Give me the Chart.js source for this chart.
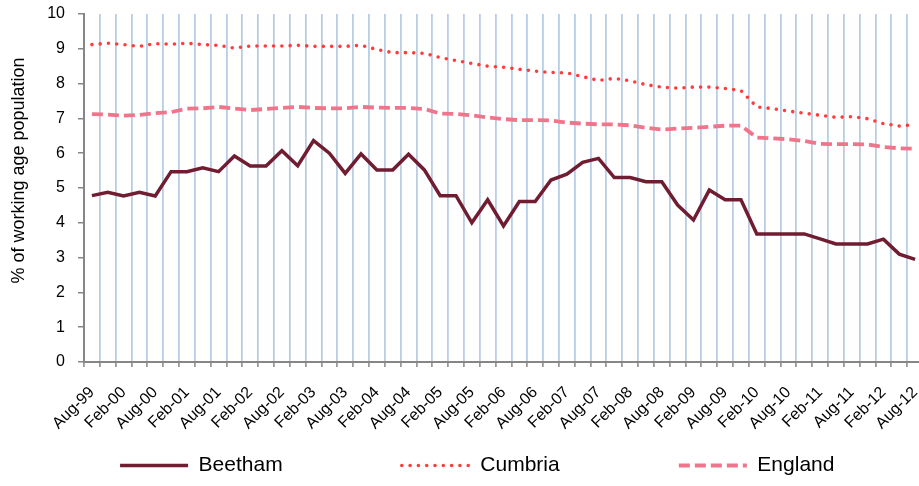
<!DOCTYPE html>
<html>
<head>
<meta charset="utf-8">
<title>Claimant rate: Beetham, Cumbria and England</title>
<script src="https://cdn.jsdelivr.net/npm/chart.js@4.4.1/dist/chart.umd.min.js"></script>
<style>
  html, body { margin: 0; padding: 0; background: #fff; overflow: hidden; }
  #wrap { width: 919px; height: 486px; overflow: hidden; }
  canvas { display: block; }
</style>
</head>
<body>
<div id="wrap"><canvas id="chart" width="927" height="486"></canvas></div>
<script>
const quarters = [
    'Aug-99', 'Nov-99',
    'Feb-00', 'May-00', 'Aug-00', 'Nov-00',
    'Feb-01', 'May-01', 'Aug-01', 'Nov-01',
    'Feb-02', 'May-02', 'Aug-02', 'Nov-02',
    'Feb-03', 'May-03', 'Aug-03', 'Nov-03',
    'Feb-04', 'May-04', 'Aug-04', 'Nov-04',
    'Feb-05', 'May-05', 'Aug-05', 'Nov-05',
    'Feb-06', 'May-06', 'Aug-06', 'Nov-06',
    'Feb-07', 'May-07', 'Aug-07', 'Nov-07',
    'Feb-08', 'May-08', 'Aug-08', 'Nov-08',
    'Feb-09', 'May-09', 'Aug-09', 'Nov-09',
    'Feb-10', 'May-10', 'Aug-10', 'Nov-10',
    'Feb-11', 'May-11', 'Aug-11', 'Nov-11',
    'Feb-12', 'May-12', 'Aug-12'
];

const beetham = [
    4.78, 4.88, 4.77, 4.88, 4.77, 5.47, 5.47, 5.58, 5.47, 5.92,
    5.63, 5.63, 6.07, 5.64, 6.36, 6.00, 5.42, 5.98, 5.52, 5.52,
    5.97, 5.52, 4.78, 4.78, 4.00, 4.66, 3.91, 4.61, 4.61, 5.23,
    5.40, 5.74, 5.85, 5.30, 5.30, 5.18, 5.18, 4.51, 4.08, 4.94,
    4.66, 4.66, 3.68, 3.68, 3.68, 3.68, 3.54, 3.39, 3.39, 3.39,
    3.53, 3.10, 2.95
];

const cumbria = [
    9.12, 9.16, 9.12, 9.07, 9.15, 9.13, 9.16, 9.12, 9.10, 9.02,
    9.08, 9.08, 9.08, 9.10, 9.07, 9.07, 9.07, 9.10, 8.98, 8.89,
    8.89, 8.87, 8.75, 8.66, 8.58, 8.50, 8.47, 8.41, 8.36, 8.32,
    8.31, 8.20, 8.09, 8.15, 8.08, 7.97, 7.90, 7.87, 7.90, 7.90,
    7.86, 7.80, 7.33, 7.28, 7.21, 7.15, 7.09, 7.03, 7.05, 6.99,
    6.85, 6.78, 6.82
];

const england = [
    7.12, 7.11, 7.08, 7.10, 7.15, 7.18, 7.28, 7.29, 7.33, 7.28,
    7.24, 7.27, 7.30, 7.33, 7.30, 7.29, 7.29, 7.33, 7.31, 7.30,
    7.30, 7.27, 7.14, 7.13, 7.09, 7.03, 6.98, 6.95, 6.95, 6.94,
    6.88, 6.85, 6.83, 6.83, 6.80, 6.73, 6.68, 6.71, 6.73, 6.76,
    6.79, 6.79, 6.45, 6.43, 6.40, 6.35, 6.27, 6.26, 6.26, 6.25,
    6.18, 6.14, 6.13
];

// trailing spaces widen the legend entries so they spread out like the original
const legendSpaces = [17, 17, 9];

Chart.defaults.font.family = '"Liberation Sans", Arial, sans-serif';
Chart.defaults.color = '#000';

new Chart(document.getElementById('chart').getContext('2d'), {
    type: 'line',
    data: {
        labels: quarters,
        datasets: [
            {
                label: 'Beetham',
                data: beetham,
                borderColor: '#701d31',
                borderWidth: 3.5,
                pointRadius: 0,
                fill: false,
                tension: 0
            },
            {
                label: 'Cumbria',
                data: cumbria,
                borderColor: '#ff3b3b',
                borderWidth: 3.6,
                borderDash: [0, 8.3],
                borderCapStyle: 'round',
                pointRadius: 0,
                fill: false,
                tension: 0
            },
            {
                label: 'England',
                data: england,
                borderColor: '#f0748a',
                borderWidth: 3.8,
                borderDash: [11, 5],
                pointRadius: 0,
                fill: false,
                tension: 0
            }
        ]
    },
    options: {
        responsive: false,
        animation: false,
        layout: {
            padding: { top: 14, right: 4, left: 0, bottom: 0 }
        },
        plugins: {
            tooltip: { enabled: false },
            legend: {
                position: 'bottom',
                fullSize: false,
                labels: {
                    usePointStyle: true,
                    pointStyle: 'line',
                    pointStyleWidth: 68,
                    padding: 20,
                    color: '#000',
                    font: { size: 21 },
                    generateLabels: chart => Chart.defaults.plugins.legend.labels.generateLabels(chart)
                        .map((item, i) => {
                            const ds = chart.data.datasets[i];
                            item.text = item.text + ' '.repeat(legendSpaces[i]);
                            item.lineDash = ds.borderDash || [];
                            item.lineCap = ds.borderCapStyle || 'butt';
                            item.lineWidth = ds.borderWidth;
                            item.strokeStyle = ds.borderColor;
                            return item;
                        })
                }
            }
        },
        scales: {
            x: {
                offset: true,
                grid: {
                    offset: true,
                    color: '#b9cde5',
                    lineWidth: 1.8,
                    tickColor: '#868686',
                    tickWidth: 1.5,
                    tickLength: 5
                },
                border: { color: '#868686', width: 2 },
                ticks: {
                    autoSkip: false,
                    minRotation: 45,
                    maxRotation: 45,
                    padding: 16,
                    font: { size: 16 },
                    callback: (value, index) => index % 2 === 0 ? quarters[index] : ''
                },
                afterFit: scale => {
                    scale.height = 73;
                    scale.paddingRight = 0;
                }
            },
            y: {
                min: 0,
                max: 10,
                ticks: { stepSize: 1, padding: 13, font: { size: 16 } },
                grid: {
                    drawOnChartArea: false,
                    color: '#868686',
                    lineWidth: 1.5,
                    tickLength: 6
                },
                border: { color: '#868686', width: 2 },
                title: {
                    display: true,
                    // leading spaces lift the title a little, as in the original
                    text: '       % of working age population',
                    font: { size: 18 },
                    padding: { top: 8, bottom: 0 }
                },
                afterFit: scale => {
                    scale.width = 84;
                    scale.paddingTop = 0;
                }
            }
        }
    }
});
</script>
</body>
</html>
